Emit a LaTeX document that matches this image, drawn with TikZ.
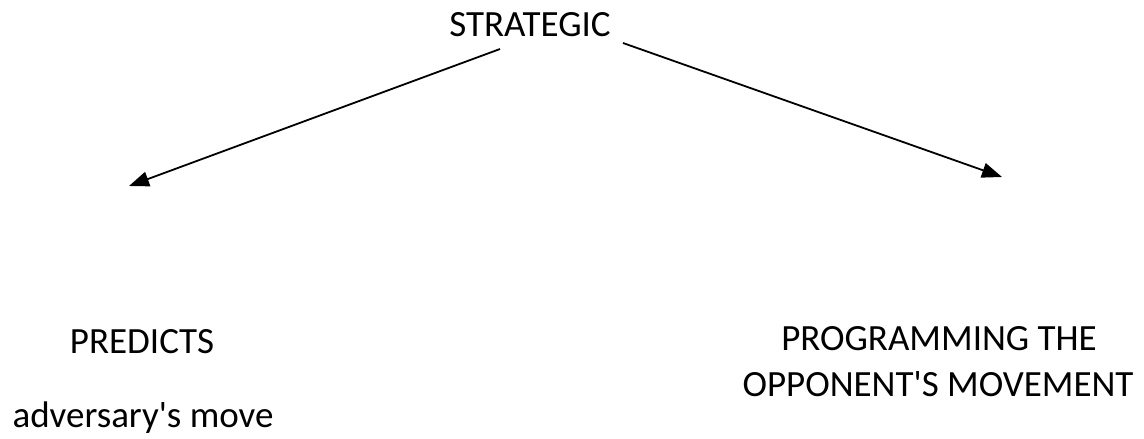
\documentclass[tikz,border=0pt]{standalone}
\usepackage{fontspec}
\setmainfont{Carlito}[Ligatures=TeXOff]
\usetikzlibrary{arrows.meta}
\tikzset{
  lbl/.style={inner sep=0pt, anchor=base, font=\fontsize{37}{46}\selectfont},
  conn/.style={line width=1.8pt, -{Triangle[length=20pt,width=15pt]}}
}
\begin{document}
\begin{tikzpicture}[x=1pt,y=-1pt]
\useasboundingbox (0,0) rectangle (1144,439);
\node[lbl] (strat) at (530,36) {STRATEGIC};
\node[lbl] (pred) at (142,353) {PREDICTS};
\node[lbl] (adv) at (143,427) {adversary's move};
\node[lbl] (prog1) at (939,350) {PROGRAMMING THE};
\node[lbl] (prog2) at (938,396) {OPPONENT'S MOVEMENT};
\coordinate (ls) at (500,49);
\coordinate (le) at (129,186);
\coordinate (rs) at (623,43);
\coordinate (re) at (1002,177);
\draw[conn] (ls) -- (le);
\draw[conn] (rs) -- (re);
\end{tikzpicture}
\end{document}
